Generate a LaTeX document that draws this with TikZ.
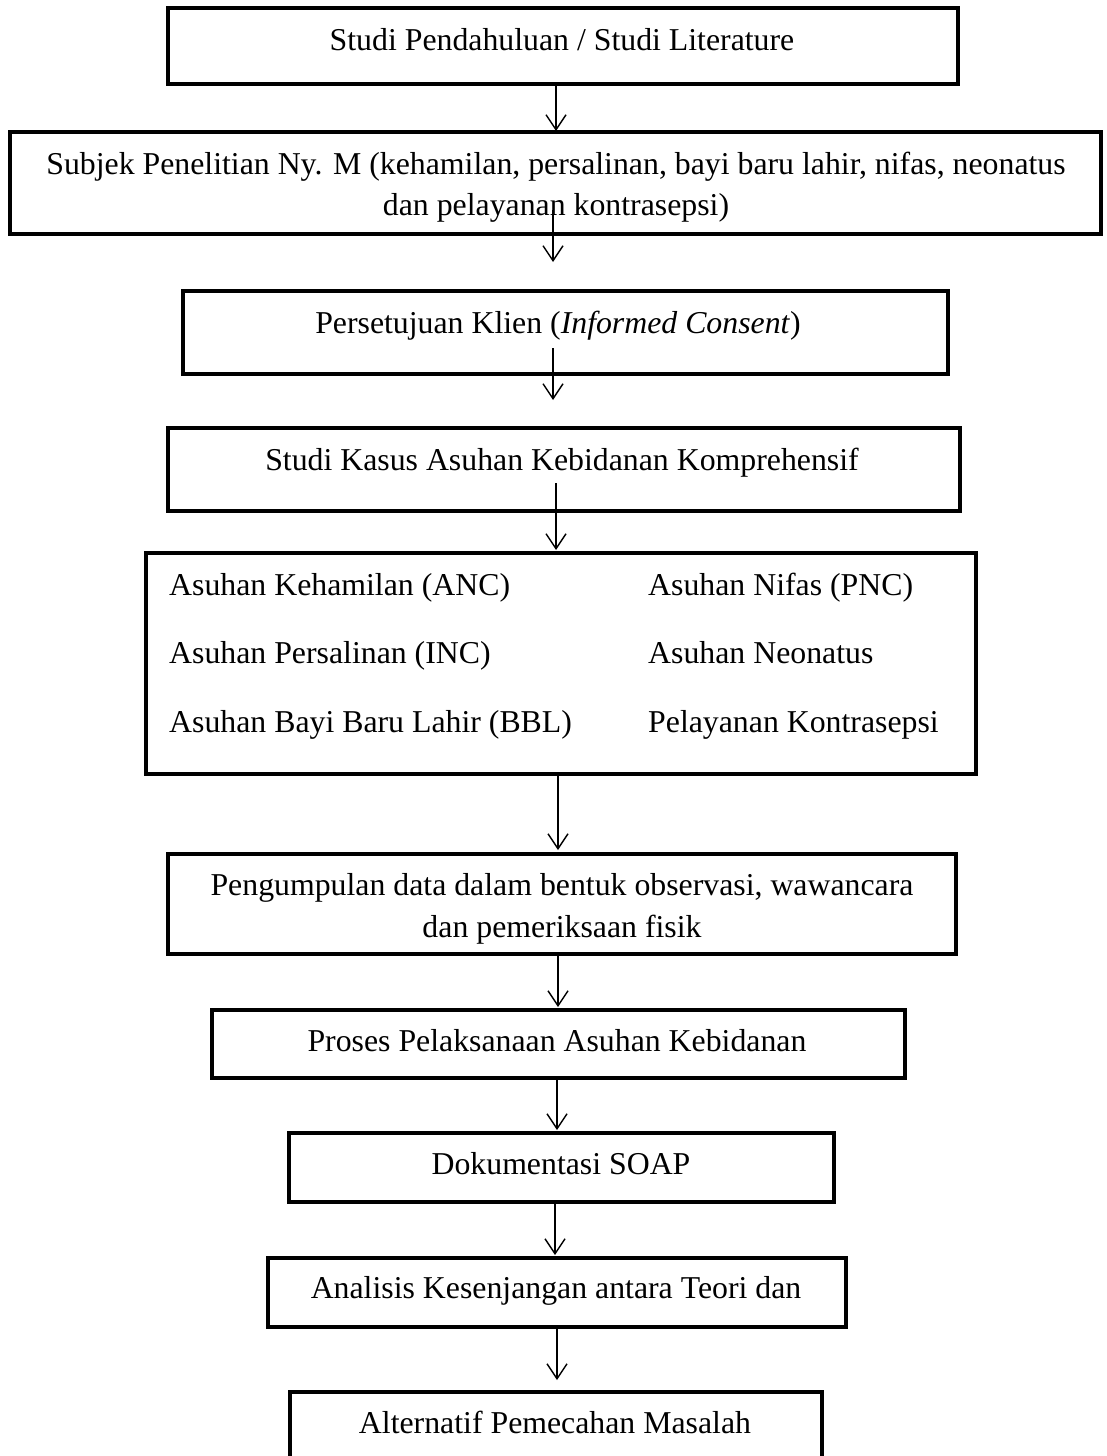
\documentclass[tikz,border=0pt]{standalone}
\usepackage{fontspec}
\setmainfont{Liberation Serif}
\usetikzlibrary{arrows.meta}
\begin{document}
\begin{tikzpicture}[x=1pt,y=-1pt,
  boxs/.style={draw=black,line width=4.5pt,rectangle,inner sep=0pt,outer sep=0pt,fill=white},
  lbl/.style={anchor=base,inner sep=0pt,font=\fontsize{31.8pt}{41pt}\selectfont},
  lbll/.style={anchor=base west,inner sep=0pt,font=\fontsize{31.8pt}{41pt}\selectfont},
  arr/.style={line width=1.4pt,-{Straight Barb[length=15pt,width=20pt,line width=1.4pt]}}]
\useasboundingbox (0,0) rectangle (1107,1456);
\clip (0,0) rectangle (1107,1456);
\fill[white] (0,0) rectangle (1107,1456);
% boxes
\node[boxs,minimum width=790pt,minimum height=76pt] (b1) at (563,46) {};
\node[boxs,minimum width=1091pt,minimum height=102pt] (b2) at (555.5,183) {};
\node[boxs,minimum width=765pt,minimum height=83pt] (b3) at (565.5,332.5) {};
\node[boxs,minimum width=792pt,minimum height=83pt] (b4) at (564,469.5) {};
\node[boxs,minimum width=830pt,minimum height=221pt] (b5) at (561,663.5) {};
\node[boxs,minimum width=788pt,minimum height=100pt] (b6) at (562,904) {};
\node[boxs,minimum width=693pt,minimum height=68pt] (b7) at (558.5,1044) {};
\node[boxs,minimum width=545pt,minimum height=69pt] (b8) at (561.5,1167.5) {};
\node[boxs,minimum width=578pt,minimum height=69pt] (b9) at (557,1292.5) {};
\node[boxs,minimum width=532pt,minimum height=108pt] (b10) at (556,1446) {};
% texts
\node[lbl] (t1) at (562,50) {Studi Pendahuluan / Studi Literature};
\node[lbl] (t2a) at (556,174) {Subjek Penelitian Ny. M (kehamilan, persalinan, bayi baru lahir, nifas, neonatus};
\node[lbl] (t2b) at (556,215) {dan pelayanan kontrasepsi)};
\node[lbl] (t3) at (558,333) {Persetujuan Klien (\textit{Informed Consent})};
\node[lbl] (t4) at (562,470) {Studi Kasus Asuhan Kebidanan Komprehensif};
\node[lbll] (t5a) at (169,595) {Asuhan Kehamilan (ANC)};
\node[lbll] (t5b) at (169,663) {Asuhan Persalinan (INC)};
\node[lbll] (t5c) at (169,732) {Asuhan Bayi Baru Lahir (BBL)};
\node[lbll] (t5d) at (648,595) {Asuhan Nifas (PNC)};
\node[lbll] (t5e) at (648,663) {Asuhan Neonatus};
\node[lbll] (t5f) at (648,732) {Pelayanan Kontrasepsi};
\node[lbl] (t6a) at (562,895) {Pengumpulan data dalam bentuk observasi, wawancara};
\node[lbl] (t6b) at (562,937) {dan pemeriksaan fisik};
\node[lbl] (t7) at (557,1051) {Proses Pelaksanaan Asuhan Kebidanan};
\node[lbl] (t8) at (561,1174) {Dokumentasi SOAP};
\node[lbl] (t9) at (556,1298) {Analisis Kesenjangan antara Teori dan};
\node[lbl] (t10) at (555,1433) {Alternatif Pemecahan Masalah};
% connector end points
\coordinate (a1s) at (556,84);   \coordinate (a1e) at (556,131);
\coordinate (a2s) at (553,210);  \coordinate (a2e) at (553,262);
\coordinate (a3s) at (553,348);  \coordinate (a3e) at (553,400);
\coordinate (a4s) at (556,483);  \coordinate (a4e) at (556,550);
\coordinate (a5s) at (558,774);  \coordinate (a5e) at (558,850);
\coordinate (a6s) at (558,954);  \coordinate (a6e) at (558,1007);
\coordinate (a7s) at (557,1078); \coordinate (a7e) at (557,1130);
\coordinate (a8s) at (555,1202); \coordinate (a8e) at (555,1255);
\coordinate (a9s) at (557,1327); \coordinate (a9e) at (557,1380);
\draw[arr] (a1s) -- (a1e);
\draw[arr] (a2s) -- (a2e);
\draw[arr] (a3s) -- (a3e);
\draw[arr] (a4s) -- (a4e);
\draw[arr] (a5s) -- (a5e);
\draw[arr] (a6s) -- (a6e);
\draw[arr] (a7s) -- (a7e);
\draw[arr] (a8s) -- (a8e);
\draw[arr] (a9s) -- (a9e);
\end{tikzpicture}
\end{document}
